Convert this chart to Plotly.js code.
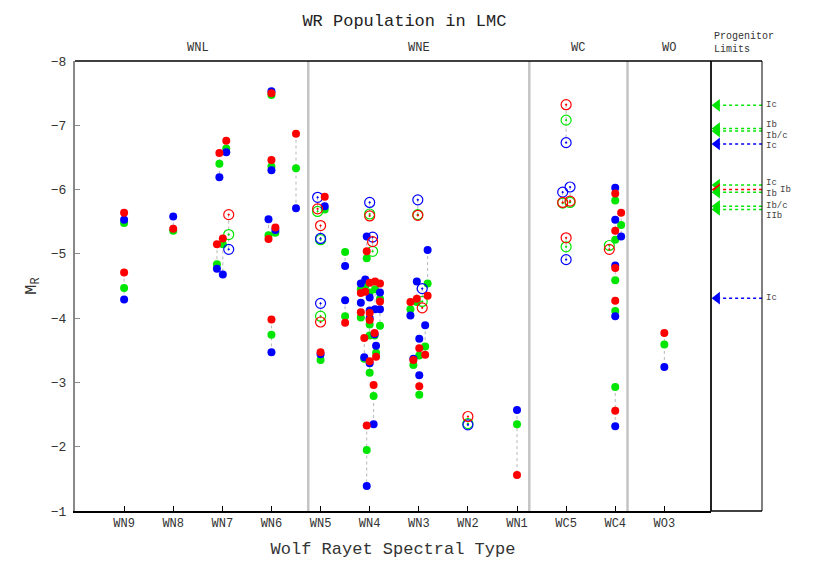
<!DOCTYPE html>
<html>
<head>
<meta charset="utf-8">
<script src="https://cdn.plot.ly/plotly-3.0.1.min.js"></script>
<style>body{margin:0;background:#fff} #chart{width:817px;height:572px}</style>
</head>
<body>
<div id="chart"></div>
<script>
// spectral types along the x axis (index 0..11)
var spectralTypes = ['WN9','WN8','WN7','WN6','WN5','WN4','WN3','WN2','WN1','WC5','WC4','WO3'];

// one entry per star: x position (type index + small jitter), M_R in three bands, ringed flag
var starX = [0, 0, 1, 2.08, 1.94, 2.13, 2.01, 1.89, 3, 3, 2.94, 3.08, 3, 3.5,
  3.94, 4.085, 4, 4, 4, 4.5, 4.5,
  5, 5.06, 4.94, 4.82, 4.82, 4.91, 5, 5, 5.11, 5.21, 5.21, 5.13, 4.89, 5, 5.08, 4.94, 5, 5.10,
  5.98, 6.18, 6.07, 5.96, 5.83, 6.13, 6.01, 5.89, 6.01,
  7, 8, 9, 8.93, 9.08, 9, 10, 10.12, 10, 9.88, 10, 10, 10, 11];
var magRed = [-5.64, -4.71, -5.39, -6.76, -6.57, -5.61, -5.24, -5.15, -7.50, -6.46, -5.23, -5.41, -3.98, -6.87,
  -5.70, -5.89, -5.44, -3.94, -3.47, null, -3.93,
  -5.59, -5.19, -5.04, -4.39, -4.09, -4.41, -4.55, -4.08, -4.57, -4.54, -4.26, -3.40, -3.69, -3.33, -2.96, -2.33, -3.97, -3.77,
  -5.60, -4.35, -4.16, -4.30, -4.25, -3.43, -3.53, -3.35, -2.94,
  -2.47, -1.56, -7.32, -5.80, -5.82, -5.25, -5.94, -5.64, -5.36, -5.07, -4.78, -4.27, -2.56, -3.77];
var magGreen = [-5.48, -4.47, -5.36, -6.64, -6.40, -5.30, -5.15, -4.84, -7.47, -6.36, -5.29, -5.33, -3.74, -6.33,
  -5.66, -5.69, -5.22, -4.03, -3.35, -5.03, -4.03,
  -5.62, -5.04, -4.93, -4.45, -4.01, -4.50, -4.40, -3.73, -4.45, -4.30, -3.88, -3.46, -3.37, -3.15, -2.79, -1.95, -3.90, -3.73,
  -5.61, -4.54, -4.26, -4.25, -4.14, -3.56, -3.42, -3.27, -2.81,
  -2.36, -2.35, -7.08, -5.79, -5.80, -5.11, -5.83, -5.45, -5.22, -5.13, -4.59, -4.11, -2.93, -3.59];
var magBlue = [-5.53, -4.29, -5.58, -6.58, -6.19, -5.07, -4.68, -4.77, -7.53, -6.30, -5.54, -5.37, -3.47, -5.71,
  -5.88, -5.74, -5.24, -4.23, -3.44, -4.81, -4.28,
  -5.80, -5.26, -5.27, -4.54, -4.24, -4.60, -4.32, -4.12, -4.14, -4.40, -4.14, -3.57, -3.39, -3.30, -2.35, -1.39, -4.00, -3.75,
  -5.84, -5.06, -4.46, -4.57, -4.04, -3.89, -3.68, -3.37, -3.11,
  -2.34, -2.57, -6.73, -5.96, -6.04, -4.91, -6.03, -5.27, -5.53, null, -4.82, -4.03, -2.32, -3.24];
var ringed = [0, 0, 0, 0, 0, 1, 0, 0, 0, 0, 0, 0, 0, 0,
  1, 0, 1, 1, 0, 0, 0,
  1, 1, 0, 0, 0, 0, 0, 0, 0, 0, 0, 0, 0, 0, 0, 0, 0, 0,
  1, 0, 1, 0, 0, 0, 0, 0, 0,
  1, 0, 1, 1, 1, 1, 0, 0, 0, 1, 0, 0, 0, 0];

// subclass groups
var groupNames = ['WNL', 'WNE', 'WC', 'WO'];
var groupCentres = [1.5, 6, 9.25, 11.1];
var groupBreaks = [3.75, 8.25, 10.25];

// progenitor limits (right panel)
var limitMag = [-7.31, -6.95, -6.91, -6.71, -6.07, -6.00, -5.96, -5.74, -5.69, -4.31];
var limitType = ['Ic', 'Ib', 'Ib/c', 'Ic', 'Ic', 'Ib', 'Ib', 'Ib/c', 'IIb', 'Ic'];
var limitBand = ['g', 'g', 'g', 'b', 'g', 'r', 'g', 'g', 'g', 'b'];

var bandColour = {r: '#ff0000', g: '#00e600', b: '#0000ff'};
var mono = 'Liberation Mono, DejaVu Sans Mono, monospace';
var panelStart = 636 / 687;

// dotted connectors between the bands of each star
var cx = [], cy = [];
starX.forEach(function(x, i) {
  var v = [magRed[i], magGreen[i], magBlue[i]].filter(function(m) { return m !== null; });
  cx.push(x, x, null);
  cy.push(Math.min.apply(null, v), Math.max.apply(null, v), null);
});

var traces = [{
  x: cx, y: cy, mode: 'lines', type: 'scatter', hoverinfo: 'skip',
  line: {color: '#b8b8b8', width: 1, dash: 'dot'}, showlegend: false
}];

[['g', magGreen], ['b', magBlue], ['r', magRed]].forEach(function(p) {
  traces.push({
    x: starX, y: p[1], mode: 'markers', type: 'scatter', showlegend: false,
    marker: {
      color: bandColour[p[0]], opacity: 1,
      symbol: ringed.map(function(r) { return r ? 'circle-open-dot' : 'circle'; }),
      size: ringed.map(function(r) { return r ? 10 : 8; }),
      line: {color: bandColour[p[0]], width: ringed.map(function(r) { return r ? 1.2 : 0; })}
    }
  });
});

// progenitor limit arrows
var labelNudge = [0, 4, -5, -2, 2, 0, -2, 0, -6, 0];
var labelSlide = [0, 0, 0, 0, 0, 14, 0, 0, 0, 0];
var annotations = [];
limitMag.forEach(function(m, i) {
  var c = bandColour[limitBand[i]];
  traces.push({
    x: [0.12, 1], y: [m, m], xaxis: 'x2', yaxis: 'y', mode: 'lines', type: 'scatter',
    line: {color: c, width: 1.5, dash: 'dot'}, showlegend: false, hoverinfo: 'skip'
  });
  traces.push({
    x: [0.12], y: [m], xaxis: 'x2', yaxis: 'y', mode: 'markers', type: 'scatter',
    marker: {symbol: 'triangle-left', size: 11, color: c, opacity: 1}, showlegend: false
  });
  annotations.push({
    text: limitType[i], xref: 'paper', x: 1, xanchor: 'left', xshift: 2 + labelSlide[i],
    yref: 'y', y: m, yshift: labelNudge[i], showarrow: false,
    font: {family: mono, size: 9, color: '#444'}
  });
});

groupNames.forEach(function(g, i) {
  annotations.push({
    text: g, xref: 'x', x: groupCentres[i], yref: 'paper', y: 1, yanchor: 'bottom', yshift: 4,
    showarrow: false, font: {family: mono, size: 12, color: '#333'}
  });
});
annotations.push({
  text: 'Progenitor<br>Limits', xref: 'paper', x: panelStart, xanchor: 'left', xshift: 1,
  yref: 'paper', y: 1, yanchor: 'bottom', yshift: 4, align: 'left', showarrow: false,
  font: {family: mono, size: 10, color: '#333'}
});

var shapes = groupBreaks.map(function(b) {
  return {type: 'line', xref: 'x', x0: b, x1: b, yref: 'paper', y0: 0, y1: 1,
    line: {color: '#c4c4c4', width: 2.5}};
});
shapes.push(
  {type: 'line', xref: 'paper', x0: panelStart, x1: panelStart, yref: 'paper', y0: 0, y1: 1, line: {color: '#222', width: 2}},
  {type: 'line', xref: 'paper', x0: 1, x1: 1, yref: 'paper', y0: 0, y1: 1, line: {color: '#000', width: 1}},
  {type: 'line', xref: 'paper', x0: 0, x1: 1, yref: 'paper', y0: 1, y1: 1, line: {color: '#000', width: 1.5}},
  {type: 'line', xref: 'paper', x0: panelStart, x1: 1, yref: 'paper', y0: 0, y1: 0, line: {color: '#000', width: 1.5}}
);

var layout = {
  width: 817, height: 572,
  margin: {l: 75, r: 55, t: 61, b: 61},
  paper_bgcolor: '#fff', plot_bgcolor: '#fff',
  font: {family: mono, color: '#333'},
  title: {text: 'WR Population in LMC', font: {family: mono, size: 17, color: '#222'},
    xref: 'container', x: 0.495, y: 0.965, yanchor: 'middle'},
  xaxis: {
    domain: [0, panelStart], range: [-1, 11.95],
    tickvals: spectralTypes.map(function(t, i) { return i; }), ticktext: spectralTypes,
    ticks: 'inside', ticklen: 5, tickcolor: '#000', tickfont: {family: mono, size: 12, color: '#333'},
    showline: true, linecolor: '#000', linewidth: 1.5, showgrid: false, zeroline: false,
    title: {text: 'Wolf Rayet Spectral Type', font: {family: mono, size: 17, color: '#333'}, standoff: 12}
  },
  xaxis2: {domain: [panelStart, 1], range: [0, 1], visible: false, anchor: 'y'},
  yaxis: {
    range: [-1, -8], tickvals: [-8, -7, -6, -5, -4, -3, -2, -1],
    ticks: 'inside', ticklen: 5, tickcolor: '#888', tickfont: {family: mono, size: 13, color: '#333'},
    showline: true, linecolor: '#888', linewidth: 2, showgrid: false, zeroline: false,
    ticklabelstandoff: 4,
    title: {text: 'M<sub>R</sub>', font: {family: mono, size: 17, color: '#333'}, standoff: 10}
  },
  shapes: shapes,
  annotations: annotations
};

Plotly.newPlot('chart', traces, layout, {displayModeBar: false, staticPlot: true});
</script>
</body>
</html>
